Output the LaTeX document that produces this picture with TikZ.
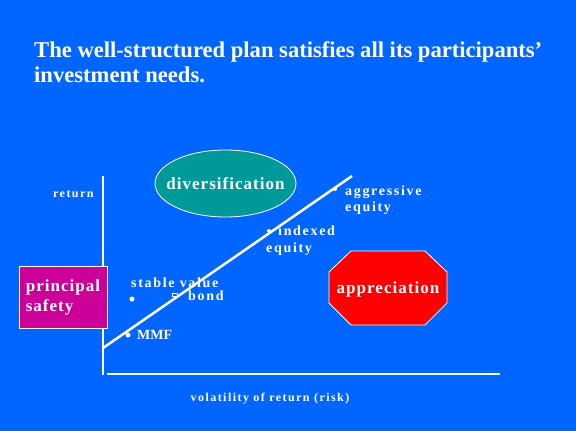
\documentclass[tikz,border=0pt]{standalone}
\usepackage{fontspec}
\setmainfont{Liberation Serif}
\newfontfamily\widefont[LetterSpace=12]{Liberation Serif}
\newfontfamily\boxfont[LetterSpace=6]{Liberation Serif}
\usetikzlibrary{shapes.geometric}

\definecolor{slideblue}{HTML}{0066FF}
\definecolor{divteal}{HTML}{009999}
\definecolor{safetypink}{HTML}{CC0099}
\definecolor{apprred}{HTML}{FF0000}

\begin{document}
\begin{tikzpicture}[
        x=1pt, y=-1pt,
        axis/.style={white, line width=2pt},
        trend/.style={white, line width=2.5pt},
        dot/.style={circle, fill=white, inner sep=0pt, minimum size=5pt},
        tag/.style={text=white, inner sep=0pt, anchor=base west, font=\widefont\bfseries\fontsize{14}{16}\selectfont},
        blob/.style={draw=white, line width=0.8pt, text=white, inner sep=0pt, font=\boxfont\bfseries\fontsize{17}{20}\selectfont},
        blobtext/.style={text=white, inner sep=0pt, font=\boxfont\bfseries\fontsize{17}{20}\selectfont}
    ]
        % Slide background
        \fill[slideblue] (0,0) rectangle (576,431);
        \useasboundingbox (0,0) rectangle (576,431);

        % Title
        \node (title) [anchor=base west, inner sep=0pt, text=white, font=\bfseries\fontsize{22.6}{26}\selectfont] at (34,57) {The well-structured plan satisfies all its participants’};
        \node (title2) [anchor=base west, inner sep=0pt, text=white, font=\bfseries\fontsize{22.6}{26}\selectfont] at (34,82) {investment needs.};

        % Axes
        \coordinate (ytop) at (103,176);
        \coordinate (ybottom) at (103,375);
        \coordinate (xstart) at (107,374);
        \coordinate (xend) at (500,374);
        \draw[axis] (ytop) -- (ybottom);
        \draw[axis] (xstart) -- (xend);
        \node (ret) [tag, font=\widefont\bfseries\fontsize{12}{14}\selectfont] at (53,197) {return};
        \node (risk) [tag, anchor=base, font=\widefont\bfseries\fontsize{12}{14}\selectfont] at (270,401) {volatility of return (risk)};

        % Risk/return line
        \coordinate (low) at (103,348);
        \coordinate (high) at (352,176);
        \draw[trend] (low) -- (high);

        % Investment options
        \node (mmf dot) [dot] at (128,335) {};
        \node (mmf) [tag, font=\bfseries\fontsize{14}{16}\selectfont] at (137,339) {MMF};
        \node (stable dot) [dot] at (132,299) {};
        \node (stable) [tag] at (131,287) {stable value};
        \node (bond mark) [draw=white, line width=1pt, inner sep=0pt, minimum width=5pt, minimum height=3pt] at (175,295) {};
        \node (bond) [tag] at (188,300) {bond};
        \node (index dot) [dot, minimum size=4pt] at (269,231) {};
        \node (index) [tag] at (278,235) {indexed};
        \node (index2) [tag] at (266,252) {equity};
        \node (aggr dot) [dot, minimum size=4pt] at (335,189) {};
        \node (aggr) [tag] at (345,195) {aggressive};
        \node (aggr2) [tag] at (345,211) {equity};

        % Goals
        \node (divers) [blob, ellipse, fill=divteal, minimum width=141, minimum height=67,
            label={[blobtext]center:diversification}] at (225.5,183.5) {};
        \node (safety) [blob, fill=safetypink, minimum width=88, minimum height=62, align=left] at (63,297) {principal\\safety};
        \filldraw[blob, fill=apprred] (351,251) -- (425,251) -- (447,272) -- (447,303)
            -- (425,325) -- (351,325) -- (329,303) -- (329,272) -- cycle;
        \node (appr) [blobtext] at (388,289) {appreciation};
    \end{tikzpicture}
\end{document}
